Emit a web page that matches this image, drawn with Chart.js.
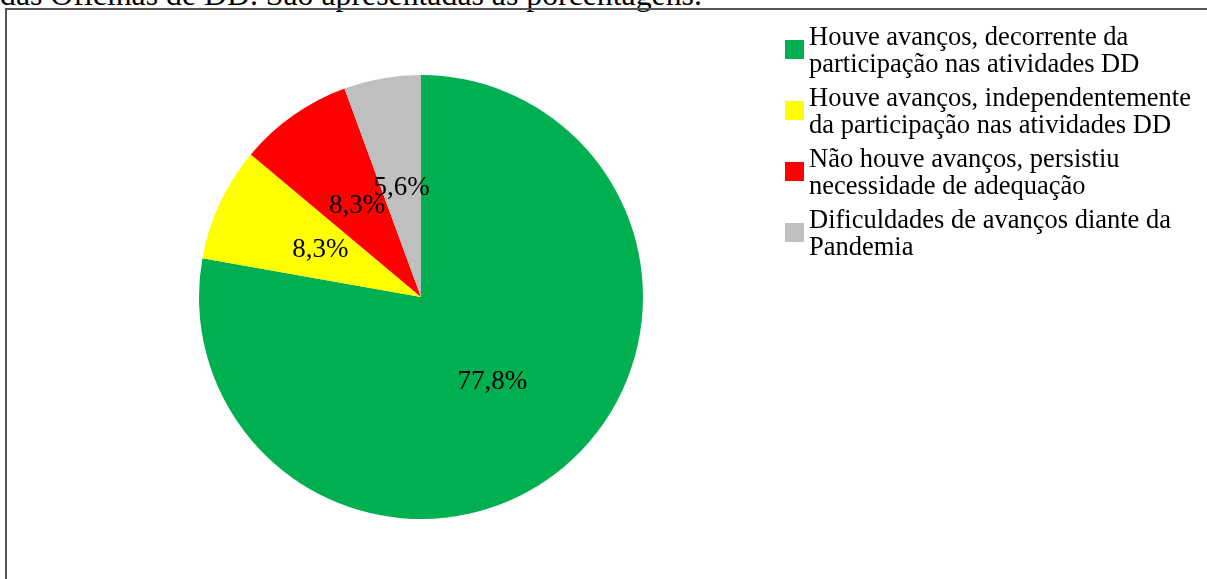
<!DOCTYPE html>
<html>
<head>
<meta charset="utf-8">
<script src="https://cdn.jsdelivr.net/npm/chart.js@4.4.1/dist/chart.umd.min.js"></script>
<style>
    html, body { margin: 0; padding: 0; background: #fff; overflow: hidden; }
    body { width: 1207px; height: 579px; position: relative; font-family: "Liberation Serif", "Times New Roman", serif; }
    #caption { position: absolute; left: 0; top: -23px; font-size: 31.8px; line-height: 35px; white-space: nowrap; color: #000; }
    #frame { position: absolute; left: 5px; top: 8px; width: 1210px; height: 600px; border: 2px solid #555; box-sizing: border-box; }
    #chartWrap { position: absolute; left: 0; top: 0; width: 1207px; height: 579px; }
    #legend { position: absolute; left: 785px; top: 23px; font-size: 26.5px; line-height: 27px; color: #000; }
    .item { position: relative; padding-left: 24px; margin-bottom: 7px; white-space: nowrap; }
    .swatch { position: absolute; left: 0; top: 17px; width: 19px; height: 19px; }
</style>
</head>
<body>
<div id="caption">das Oficinas de DD. São apresentadas as porcentagens.</div>
<div id="frame"></div>
<div id="chartWrap"><canvas id="pieChart" width="1207" height="579"></canvas></div>
<div id="legend"></div>
<script>
    const categories = [
        ["Houve avanços, decorrente da", "participação nas atividades DD"],
        ["Houve avanços, independentemente", "da participação nas atividades DD"],
        ["Não houve avanços, persistiu", "necessidade de adequação"],
        ["Dificuldades de avanços diante da", "Pandemia"]
    ];
    const percentages = [77.8, 8.3, 8.3, 5.6];
    const sliceColors = ["#00b050", "#ffff00", "#ff0000", "#bfbfbf"];

    // percent labels drawn halfway out along each slice
    const sliceLabels = {
        id: "sliceLabels",
        afterDatasetsDraw(chart) {
            const ctx = chart.ctx;
            const meta = chart.getDatasetMeta(0);
            ctx.save();
            ctx.font = "27px 'Liberation Serif', 'Times New Roman', serif";
            ctx.fillStyle = "#000";
            ctx.textAlign = "center";
            ctx.textBaseline = "middle";
            meta.data.forEach(function (arc, i) {
                const p = arc.getProps(["x", "y", "startAngle", "endAngle", "outerRadius"], true);
                const mid = (p.startAngle + p.endAngle) / 2;
                const r = p.outerRadius * 0.5;
                const text = percentages[i].toFixed(1).replace(".", ",") + "%";
                ctx.fillText(text, p.x + Math.cos(mid) * r, p.y + Math.sin(mid) * r);
            });
            ctx.restore();
        }
    };

    const legendEl = document.getElementById("legend");
    categories.forEach(function (lines, i) {
        const item = document.createElement("div");
        item.className = "item";
        item.innerHTML = '<span class="swatch" style="background:' + sliceColors[i] + '"></span>' + lines.join("<br>");
        legendEl.appendChild(item);
    });

    const ctx = document.getElementById("pieChart").getContext("2d");
    new Chart(ctx, {
        type: "pie",
        data: {
            labels: categories.map(l => l.join(" ")),
            datasets: [{
                data: percentages,
                backgroundColor: sliceColors,
                borderWidth: 0
            }]
        },
        options: {
            responsive: false,
            animation: false,
            layout: { padding: { left: 199, right: 564, top: 75, bottom: 60 } },
            plugins: {
                legend: { display: false },
                tooltip: { enabled: false }
            }
        },
        plugins: [sliceLabels]
    });
</script>
</body>
</html>
